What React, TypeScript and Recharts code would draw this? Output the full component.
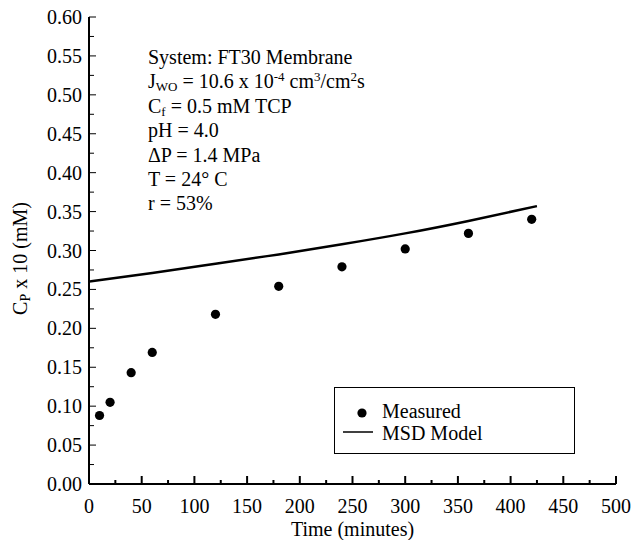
import { ComposedChart, Line, Scatter, XAxis, YAxis, Legend } from "recharts";

// measured permeate concentration (C_P x 10, mM) vs time (minutes)
const measuredTime = [10, 20, 40, 60, 120, 180, 240, 300, 360, 420];
const measuredCp = [0.088, 0.105, 0.143, 0.169, 0.218, 0.254, 0.279, 0.302, 0.322, 0.34];

// MSD model curve
const modelTime = [0, 60, 120, 180, 240, 300, 360, 425];
const modelCp = [0.26, 0.271, 0.283, 0.295, 0.308, 0.322, 0.338, 0.357];

// ticks (majors carry labels, the others are minor marks)
const xTicks = [0, 25, 50, 75, 100, 125, 150, 175, 200, 225, 250, 275, 300, 325, 350, 375, 400, 425, 450, 475, 500];
const xLabels = [0, 50, 100, 150, 200, 250, 300, 350, 400, 450, 500];
const yTicks = [
  0, 0.025, 0.05, 0.075, 0.1, 0.125, 0.15, 0.175, 0.2, 0.225, 0.25, 0.275, 0.3,
  0.325, 0.35, 0.375, 0.4, 0.425, 0.45, 0.475, 0.5, 0.525, 0.55, 0.575, 0.6,
];
const yLabels = ["0.00", "0.05", "0.10", "0.15", "0.20", "0.25", "0.30", "0.35", "0.40", "0.45", "0.50", "0.55", "0.60"];

const measured = measuredTime.map((t, i) => ({ t, cp: measuredCp[i] }));
const model = modelTime.map((t, i) => ({ t, cp: modelCp[i] }));

const W = 634;
const H = 540;
const FONT = "'Liberation Serif', Tinos, 'Times New Roman', Times, 'DejaVu Serif', 'Noto Serif', serif";

const isMajorX = (v: number) => xLabels.includes(v);
const yLabelFor = (v: number) => yLabels.find((s) => Math.abs(parseFloat(s) - v) < 1e-6);

function BottomTick(props: any) {
  const { x, y, payload } = props;
  const major = isMajorX(payload.value);
  return (
    <g>
      <line x1={x} x2={x} y1={y} y2={y - (major ? 8 : 4)} stroke="#000" strokeWidth={2} />
      {major && (
        <text x={x} y={y + 29} textAnchor="middle" fontSize={20} style={{ fontFamily: FONT }} fill="#000">
          {payload.value}
        </text>
      )}
    </g>
  );
}

function TopTick(props: any) {
  const { x, y, payload } = props;
  const major = isMajorX(payload.value);
  return <line x1={x} x2={x} y1={y} y2={y + (major ? 8 : 4)} stroke="#000" strokeWidth={2} />;
}

function LeftTick(props: any) {
  const { x, y, payload } = props;
  const label = yLabelFor(payload.value);
  return (
    <g>
      <line x1={x} x2={x + (label ? 7 : 5)} y1={y} y2={y} stroke="#000" strokeWidth={1} />
      {label && (
        <text x={x - 7} y={y + 7} textAnchor="end" fontSize={20} style={{ fontFamily: FONT }} fill="#000">
          {label}
        </text>
      )}
    </g>
  );
}

function RightTick(props: any) {
  const { x, y, payload } = props;
  const label = yLabelFor(payload.value);
  return <line x1={x} x2={x - (label ? 7 : 5)} y1={y} y2={y} stroke="#000" strokeWidth={1} />;
}

function YTitle(props: any) {
  const vb = props.viewBox || { x: 0, y: 17, width: 89, height: 467 };
  const cx = 20;
  const cy = vb.y + vb.height / 2 + 8;
  return (
    <text
      x={cx}
      y={cy}
      transform={`rotate(-90, ${cx}, ${cy})`}
      textAnchor="middle"
      dominantBaseline="central"
      fontSize={20}
      style={{ fontFamily: FONT }}
      fill="#000"
    >
      C
      <tspan fontSize={14} dy={5}>P</tspan>
      <tspan dy={-5}> x 10 (mM)</tspan>
    </text>
  );
}

function Dot(props: any) {
  return <circle cx={props.cx} cy={props.cy} r={4.6} fill="#000" />;
}

function LegendBox() {
  return (
    <div
      style={{
        position: "relative",
        width: 241,
        height: 67,
        border: "1px solid #000",
        boxSizing: "border-box",
        fontFamily: FONT,
        fontSize: 20,
        color: "#000",
        background: "#fff",
      }}
    >
      <svg width={48} height={67} style={{ position: "absolute", left: 0, top: 0 }}>
        <circle cx={27} cy={25} r={4.6} fill="#000" />
        <line x1={8} x2={38} y1={44} y2={44} stroke="#000" strokeWidth={1.5} />
      </svg>
      <div style={{ position: "absolute", left: 47, top: 11, lineHeight: "24px" }}>Measured</div>
      <div style={{ position: "absolute", left: 47, top: 33, lineHeight: "24px" }}>MSD Model</div>
    </div>
  );
}

const sub = { fontSize: 13, position: "relative" as const, top: 3, lineHeight: 0 };
const sup = { fontSize: 13, position: "relative" as const, top: -7, lineHeight: 0 };

function Conditions() {
  const lines = [
    <>System: FT30 Membrane</>,
    <>
      J<span style={sub}>WO</span> = 10.6 x 10<span style={sup}>-4</span> cm<span style={sup}>3</span>/cm
      <span style={sup}>2</span>s
    </>,
    <>
      C<span style={sub}>f</span> = 0.5 mM TCP
    </>,
    <>pH = 4.0</>,
    <>ΔP = 1.4 MPa</>,
    <>T = 24° C</>,
    <>r = 53%</>,
  ];
  return (
    <div
      style={{
        position: "absolute",
        left: 148,
        top: 45,
        fontFamily: FONT,
        fontSize: 20,
        color: "#000",
        pointerEvents: "none",
      }}
    >
      {lines.map((l, i) => (
        <div key={i} style={{ height: 24.4, lineHeight: "24.4px", whiteSpace: "nowrap" }}>
          {l}
        </div>
      ))}
    </div>
  );
}

export default function App() {
  return (
    <div style={{ position: "absolute", left: 0, top: 0, width: W, height: H, background: "#fff", fontFamily: FONT }}>
      <ComposedChart width={W} height={H} margin={{ top: 17, right: 18, bottom: 0, left: 0 }}>
        <XAxis
          xAxisId="bottom"
          type="number"
          dataKey="t"
          domain={[0, 500]}
          ticks={xTicks}
          interval={0}
          height={56}
          tickSize={0}
          tickMargin={0}
          tick={<BottomTick />}
          axisLine={{ stroke: "#000", strokeWidth: 2 }}
          tickLine={false}
          label={{
            value: "Time (minutes)",
            position: "insideBottom",
            offset: 4,
            fontSize: 20,
            style: { fontFamily: FONT },
            fill: "#000",
          }}
        />
        <XAxis
          xAxisId="top"
          orientation="top"
          type="number"
          dataKey="t"
          domain={[0, 500]}
          ticks={xTicks}
          interval={0}
          height={0}
          tickSize={0}
          tickMargin={0}
          tick={<TopTick />}
          axisLine={{ stroke: "#000", strokeWidth: 2 }}
          tickLine={false}
        />
        <YAxis
          yAxisId="left"
          type="number"
          dataKey="cp"
          domain={[0, 0.6]}
          ticks={yTicks}
          interval={0}
          width={89}
          tickSize={0}
          tickMargin={0}
          tick={<LeftTick />}
          axisLine={{ stroke: "#000", strokeWidth: 2 }}
          tickLine={false}
          label={<YTitle />}
        />
        <YAxis
          yAxisId="right"
          orientation="right"
          type="number"
          dataKey="cp"
          domain={[0, 0.6]}
          ticks={yTicks}
          interval={0}
          width={0}
          tickSize={0}
          tickMargin={0}
          tick={<RightTick />}
          axisLine={{ stroke: "#000", strokeWidth: 2 }}
          tickLine={false}
        />
        <Line
          xAxisId="bottom"
          yAxisId="left"
          data={model}
          dataKey="cp"
          type="natural"
          stroke="#000"
          strokeWidth={2.5}
          dot={false}
          isAnimationActive={false}
          name="MSD Model"
        />
        <Scatter
          xAxisId="bottom"
          yAxisId="left"
          data={measured}
          dataKey="cp"
          shape={<Dot />}
          isAnimationActive={false}
          name="Measured"
        />
        <Legend
          layout="vertical"
          align="center"
          verticalAlign="middle"
          content={() => <LegendBox />}
          wrapperStyle={{ position: "absolute", left: 334, top: 387, width: 241, height: 67 }}
        />
      </ComposedChart>
      <Conditions />
    </div>
  );
}
